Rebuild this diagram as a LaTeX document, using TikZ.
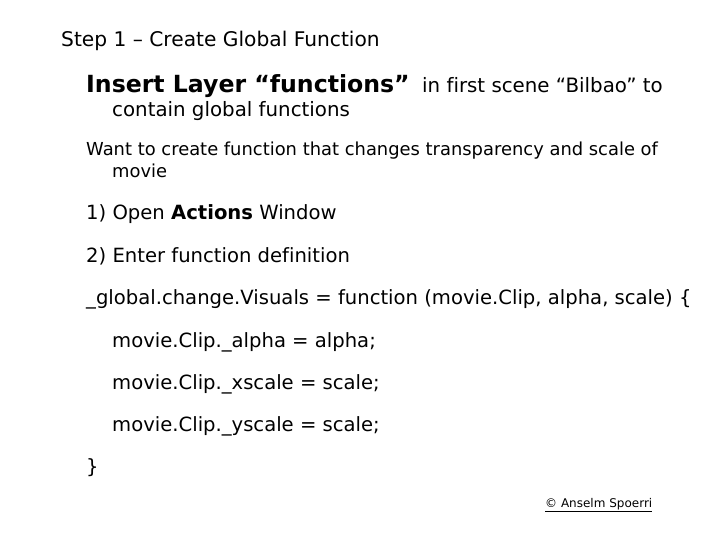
\documentclass[tikz,border=0pt]{standalone}
\usepackage{fontspec}
\setmainfont[Ligatures=NoCommon]{DejaVu Sans}
\begin{document}
\begin{tikzpicture}[x=1pt,y=-1pt,
  t/.style={anchor=base west,inner sep=0pt,font=\fontsize{19.6}{22}\selectfont}]
\useasboundingbox (0,0) rectangle (720,540);
\node[t,font=\fontsize{20.2}{22}\selectfont] (s) at (61,47) {Step 1 – Create Global Function};
\node[t,font=\fontsize{23.6}{26}\bfseries] (a) at (86,93) {Insert Layer “functions”};
\node[t,font=\fontsize{19.8}{22}\selectfont] (a2) at (422,93) {in first scene “Bilbao” to};
\node[t,font=\fontsize{19.8}{22}\selectfont] (a3) at (112,117) {contain global functions};
\node[t,font=\fontsize{17.9}{20}\selectfont] (b) at (86,156) {Want to create function that changes transparency and scale of};
\node[t,font=\fontsize{17.9}{20}\selectfont] (b2) at (112,178) {movie};
\node[t] (c) at (86,220) {1) Open \textbf{Actions} Window};
\node[t] (d) at (86,262) {2) Enter function definition};
\node[t] (e) at (86,304) {\_global.change.Visuals = function (movie.Clip, alpha, scale) \{};
\node[t] (f) at (112,347) {movie.Clip.\_alpha = alpha;};
\node[t] (g) at (112,389) {movie.Clip.\_xscale = scale;};
\node[t] (h) at (112,431) {movie.Clip.\_yscale = scale;};
\node[t] (i) at (86,473) {\}};
\node[t,font=\fontsize{12}{14}\selectfont] (j) at (545,507) {\underline{© Anselm Spoerri}};
\end{tikzpicture}
\end{document}
